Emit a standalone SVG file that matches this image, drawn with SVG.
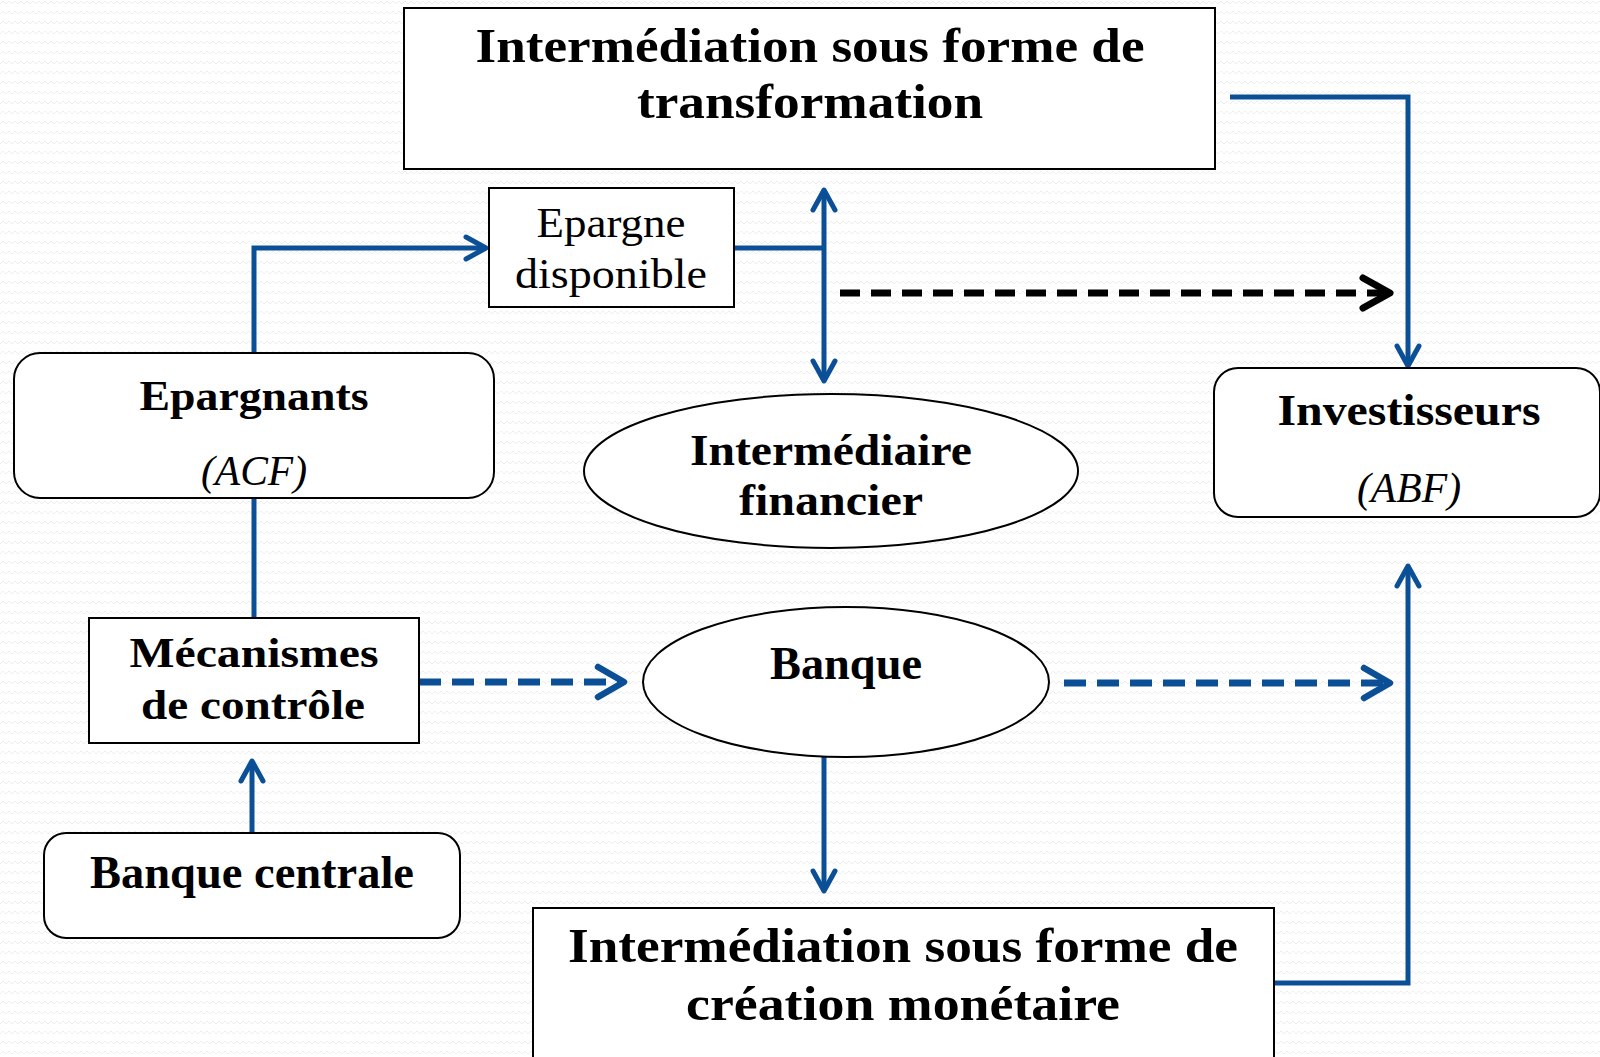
<svg xmlns="http://www.w3.org/2000/svg" width="1600" height="1057" viewBox="0 0 1600 1057">
<style>
.box{fill:#ffffff;stroke:#000000;stroke-width:2}
.t{font-family:"Liberation Serif","Times New Roman",serif;fill:#000000;text-anchor:middle}
.b{font-weight:bold}
.i{font-style:italic}
.blue{fill:none;stroke:#0b5096;stroke-width:5}
.bdash{fill:none;stroke:#0b5096;stroke-width:7;stroke-dasharray:22 11}
.kdash{fill:none;stroke:#000000;stroke-width:7;stroke-dasharray:20 11}
</style>
<defs>
<pattern id="zig" width="6" height="10" patternUnits="userSpaceOnUse">
<path d="M0,4 L3,1 L6,4" fill="none" stroke="#eeeeee" stroke-width="1"/>
</pattern>
<marker id="ab" viewBox="-28 -18 32 36" markerWidth="32" markerHeight="36" refX="0" refY="0" markerUnits="userSpaceOnUse" orient="auto-start-reverse">
<path d="M-20,-11 L0,0 L-20,11" fill="none" stroke="#0b5096" stroke-width="5" stroke-linecap="round" stroke-linejoin="round"/>
</marker>
<marker id="abd" viewBox="-34 -22 38 44" markerWidth="38" markerHeight="44" refX="0" refY="0" markerUnits="userSpaceOnUse" orient="auto">
<path d="M-26,-15 L0,0 L-26,15" fill="none" stroke="#0b5096" stroke-width="6.5" stroke-linecap="round" stroke-linejoin="round"/>
</marker>
<marker id="ak" viewBox="-34 -22 38 44" markerWidth="38" markerHeight="44" refX="0" refY="0" markerUnits="userSpaceOnUse" orient="auto">
<path d="M-27,-15 L0,0 L-27,15" fill="none" stroke="#000000" stroke-width="7" stroke-linecap="round" stroke-linejoin="round"/>
</marker>
</defs>
<rect x="0" y="0" width="1600" height="1057" fill="#ffffff"/>
<rect x="0" y="0" width="1600" height="1057" fill="url(#zig)"/>

<g id="connectors">
<polyline class="blue" points="1230,97 1408,97 1408,366" marker-end="url(#ab)"/>
<polyline class="blue" points="254,353 254,248 486,248" marker-end="url(#ab)"/>
<line class="blue" x1="734" y1="248" x2="824" y2="248"/>
<line class="blue" x1="824" y1="190" x2="824" y2="381" marker-start="url(#ab)" marker-end="url(#ab)"/>
<line class="kdash" x1="840" y1="293" x2="1390" y2="293" marker-end="url(#ak)"/>
<line class="blue" x1="254" y1="498" x2="254" y2="618"/>
<line class="blue" x1="252" y1="833" x2="252" y2="761" marker-end="url(#ab)"/>
<line class="bdash" x1="419" y1="682" x2="624" y2="682" marker-end="url(#abd)"/>
<line class="bdash" x1="1064" y1="683" x2="1390" y2="683" marker-end="url(#abd)"/>
<line class="blue" x1="824" y1="757" x2="824" y2="891" marker-end="url(#ab)"/>
<polyline class="blue" points="1274,983 1408,983 1408,566" marker-end="url(#ab)"/>
</g>

<g id="node-transformation">
<rect class="box" x="404" y="8" width="811" height="161"/>
<text class="t b" x="810" y="62" font-size="49" textLength="669" lengthAdjust="spacingAndGlyphs">Intermédiation sous forme de</text>
<text class="t b" x="810" y="118" font-size="49" textLength="346" lengthAdjust="spacingAndGlyphs">transformation</text>
</g>

<g id="node-epargne">
<rect class="box" x="489" y="188" width="245" height="119"/>
<text class="t" x="611" y="237" font-size="43" textLength="149" lengthAdjust="spacingAndGlyphs">Epargne</text>
<text class="t" x="611" y="288" font-size="43" textLength="192" lengthAdjust="spacingAndGlyphs">disponible</text>
</g>

<g id="node-epargnants">
<rect class="box" x="14" y="353" width="480" height="145" rx="26" ry="26"/>
<text class="t b" x="254" y="410" font-size="43" textLength="229" lengthAdjust="spacingAndGlyphs">Epargnants</text>
<text class="t i" x="254" y="485" font-size="43" textLength="106" lengthAdjust="spacingAndGlyphs">(ACF)</text>
</g>

<g id="node-intermediaire">
<ellipse class="box" cx="831" cy="471" rx="247" ry="77"/>
<text class="t b" x="831" y="465" font-size="45" textLength="282" lengthAdjust="spacingAndGlyphs">Intermédiaire</text>
<text class="t b" x="831" y="515" font-size="45" textLength="184" lengthAdjust="spacingAndGlyphs">financier</text>
</g>

<g id="node-investisseurs">
<rect class="box" x="1214" y="368" width="386" height="149" rx="24" ry="24"/>
<text class="t b" x="1409" y="425" font-size="45" textLength="263" lengthAdjust="spacingAndGlyphs">Investisseurs</text>
<text class="t i" x="1409" y="502" font-size="43" textLength="104" lengthAdjust="spacingAndGlyphs">(ABF)</text>
</g>

<g id="node-mecanismes">
<rect class="box" x="89" y="618" width="330" height="125"/>
<text class="t b" x="254" y="667" font-size="43" textLength="249" lengthAdjust="spacingAndGlyphs">Mécanismes</text>
<text class="t b" x="253" y="719" font-size="43" textLength="224" lengthAdjust="spacingAndGlyphs">de contrôle</text>
</g>

<g id="node-banque">
<ellipse class="box" cx="846" cy="682" rx="203" ry="75"/>
<text class="t b" x="846" y="679" font-size="46" textLength="152" lengthAdjust="spacingAndGlyphs">Banque</text>
</g>

<g id="node-banque-centrale">
<rect class="box" x="44" y="833" width="416" height="105" rx="22" ry="22"/>
<text class="t b" x="252" y="888" font-size="46" textLength="324" lengthAdjust="spacingAndGlyphs">Banque centrale</text>
</g>

<g id="node-creation">
<rect class="box" x="533" y="908" width="741" height="170"/>
<text class="t b" x="903" y="962" font-size="49" textLength="670" lengthAdjust="spacingAndGlyphs">Intermédiation sous forme de</text>
<text class="t b" x="903" y="1020" font-size="49" textLength="434" lengthAdjust="spacingAndGlyphs">création monétaire</text>
</g>
</svg>
